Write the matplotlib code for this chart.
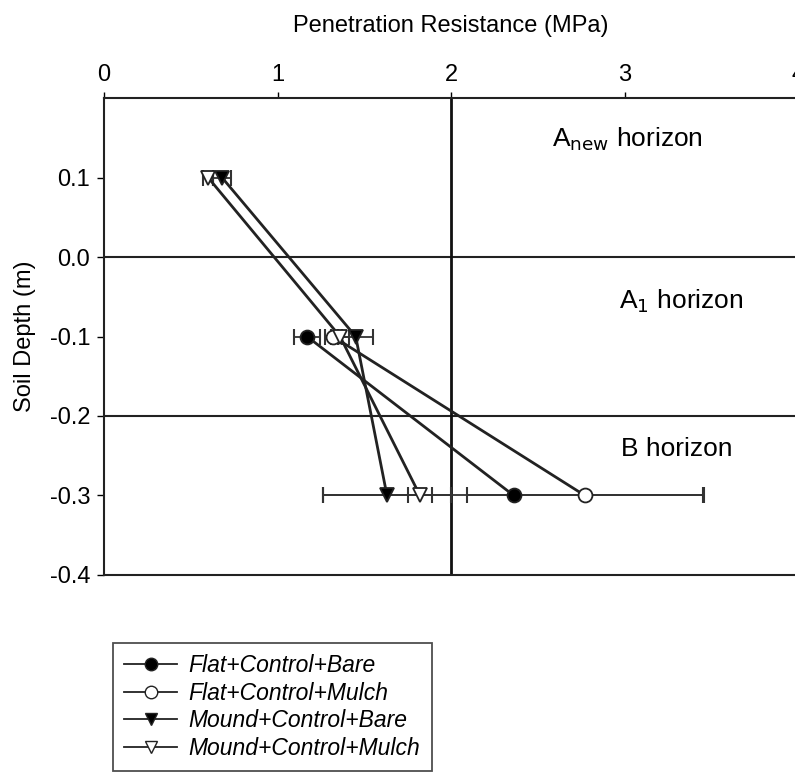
import numpy as np
import matplotlib.pyplot as plt
from matplotlib.lines import Line2D

plt.rcParams['font.family'] = ['Liberation Sans', 'DejaVu Sans']

# depth (m) of each sampling point
depth = [0.1, -0.1, -0.3]

# penetration resistance (MPa) and standard errors, nan = not sampled
flat_bare = [np.nan, 1.17, 2.36]
flat_bare_err = [np.nan, 0.075, 1.10]
flat_mulch = [np.nan, 1.32, 2.77]
flat_mulch_err = [np.nan, 0.05, 0.68]
mound_bare = [0.68, 1.45, 1.63]
mound_bare_err = [0.05, 0.10, 0.37]
mound_mulch = [0.60, 1.36, 1.82]
mound_mulch_err = [0.03, 0.05, 0.07]

fig = plt.figure(figsize=(7.95, 7.8), dpi=100)
ax = fig.add_axes([0.131, 0.263, 0.873, 0.611])

series = [
    (flat_bare, flat_bare_err, 'o', 'k', 'Flat+Control+Bare'),
    (flat_mulch, flat_mulch_err, 'o', 'w', 'Flat+Control+Mulch'),
    (mound_bare, mound_bare_err, 'v', 'k', 'Mound+Control+Bare'),
    (mound_mulch, mound_mulch_err, 'v', 'w', 'Mound+Control+Mulch'),
]

# horizon boundaries and the 2 MPa reference line
ax.axhline(0.0, color='#222222', lw=1.5)
ax.axhline(-0.2, color='#222222', lw=1.5)
ax.axvline(2.0, color='#111111', lw=2.0)

handles = []
for vals, err, mk, fc, lab in series:
    ax.errorbar(vals, depth, xerr=err, fmt='none', ecolor='#333333',
                elinewidth=1.3, capsize=6, capthick=1.5, zorder=3)
    ax.plot(vals, depth, color='#222222', lw=2.0, zorder=4)
    ax.plot(vals, depth, ls='none', marker=mk, ms=10, mfc=fc,
            mec='#222222', mew=1.3, zorder=5)
    handles.append(Line2D([], [], color='#222222', lw=1.3, marker=mk,
                          ms=9, mfc=fc, mec='#222222', label=lab))

ax.set_xlim(0, 4)
ax.set_ylim(-0.4, 0.2)
ax.xaxis.tick_top()
ax.xaxis.set_label_position('top')
ax.set_xticks([0, 1, 2, 3, 4])
ax.set_yticks([0.1, 0.0, -0.1, -0.2, -0.3, -0.4])
ax.set_yticklabels(['0.1', '0.0', '-0.1', '-0.2', '-0.3', '-0.4'])
ax.tick_params(axis='x', direction='out', length=4, width=1, labelsize=17, pad=5)
ax.tick_params(axis='y', direction='out', length=5, width=1, labelsize=17, pad=5)
ax.set_xlabel('Penetration Resistance (MPa)', fontsize=17, labelpad=23)
ax.set_ylabel('Soil Depth (m)', fontsize=17, labelpad=10)

ax.spines['right'].set_visible(False)
for s in ['left', 'top', 'bottom']:
    ax.spines[s].set_linewidth(1.5)
    ax.spines[s].set_color('#222222')

ax.text(2.58, 0.148, r'A$_{\mathrm{new}}$ horizon', fontsize=19, va='center')
ax.text(2.97, -0.056, r'A$_{1}$ horizon', fontsize=19, va='center')
ax.text(2.98, -0.241, 'B horizon', fontsize=19, va='center')

leg = fig.legend(handles=handles, loc='upper left',
                 bbox_to_anchor=(0.142, 0.176), borderaxespad=0,
                 frameon=True, fancybox=False,
                 prop={'style': 'italic', 'size': 16.5}, handlelength=2.3,
                 handletextpad=0.5, labelspacing=0.2, borderpad=0.5)
leg.get_frame().set_edgecolor('#222222')
leg.get_frame().set_linewidth(1.3)

fig.savefig('out.png', dpi=100)
